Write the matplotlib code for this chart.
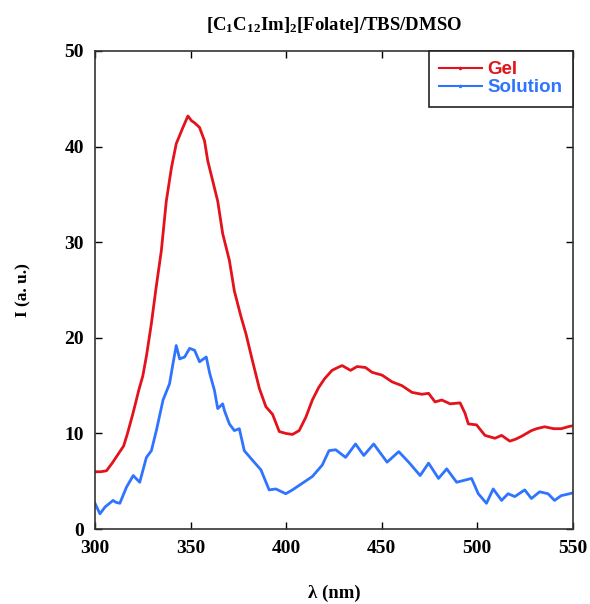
import matplotlib
matplotlib.use("Agg")
import matplotlib.pyplot as plt
from matplotlib.lines import Line2D

plt.rcParams["mathtext.fontset"] = "custom"
plt.rcParams["mathtext.rm"] = "Liberation Serif:bold"
plt.rcParams["mathtext.bf"] = "Liberation Serif:bold"
plt.rcParams["mathtext.it"] = "Liberation Serif:bold"

# ================== Data ==================

gel_wl = [300, 303, 306, 309, 312, 315, 317, 320, 323, 325, 327, 329.5, 332, 334.7,
          337.3, 340, 342.5, 346, 348.6, 350.5, 352, 354.7, 357.3, 359, 361.6, 364.2,
          366.8, 370.3, 372.9, 376.4, 379, 382.5, 386, 389.4, 392.9, 396.4, 400, 403.3,
          406.8, 410.3, 413.7, 417, 420, 424, 427, 429.3, 433.7, 437.1, 441.5, 444.9,
          450.2, 455.4, 460.6, 465.8, 471, 474.5, 477.9, 481.4, 485.8, 491, 493.6,
          495.3, 499.6, 504, 509.2, 512.7, 517, 520, 523.1, 528.3, 531, 535.2, 540,
          543.9, 548.3, 550]
gel_I = [6.0, 6.0, 6.1, 6.9, 7.8, 8.7, 10.0, 12.2, 14.6, 16.0, 18.2, 21.5, 25.3, 29.1,
         34.3, 37.8, 40.3, 42.0, 43.2, 42.7, 42.5, 42.0, 40.6, 38.5, 36.4, 34.3,
         30.9, 28.1, 24.9, 22.2, 20.4, 17.5, 14.7, 12.8, 12.0, 10.2, 10.0, 9.9,
         10.3, 11.7, 13.5, 14.8, 15.7, 16.6, 16.9, 17.1, 16.6, 17.0, 16.9, 16.4,
         16.1, 15.4, 15.0, 14.3, 14.1, 14.2, 13.3, 13.5, 13.1, 13.2, 12.1,
         11.0, 10.9, 9.8, 9.5, 9.8, 9.2, 9.4, 9.7, 10.3, 10.5, 10.7, 10.5,
         10.5, 10.75, 10.8]

sol_wl = [300, 302.6, 305.2, 307, 309.5, 311, 313, 316.5, 320, 323.4, 326.9, 329.5,
          332.1, 335.6, 339, 340.8, 342.5, 344.3, 346.9, 349.5, 352.1, 354.7, 358.2,
          360, 362.5, 364.2, 366.8, 367.7, 370.3, 372.9, 375.5, 378.1, 382.4, 386.8,
          391.1, 394.6, 399.8, 403.3, 408.5, 413.7, 418.9, 422.4, 425.9, 431.1, 436.3,
          440.6, 445.8, 452.8, 458.9, 464.1, 470.1, 474.5, 479.7, 484, 489.2, 497,
          500.5, 504.8, 508.3, 512.7, 516.1, 519.6, 524.8, 528.3, 532.6, 537, 540.4,
          543.9, 548.3, 550]
sol_I = [2.7, 1.6, 2.3, 2.6, 3.0, 2.8, 2.7, 4.4, 5.6, 4.9, 7.5, 8.2,
         10.3, 13.5, 15.2, 17.3, 19.2, 17.8, 18.0, 18.9, 18.7, 17.5, 18.0,
         16.3, 14.5, 12.6, 13.1, 12.4, 11.0, 10.3, 10.5, 8.2, 7.2, 6.2,
         4.1, 4.2, 3.7, 4.1, 4.8, 5.5, 6.7, 8.2, 8.3, 7.5, 8.9,
         7.7, 8.9, 7.0, 8.1, 7.0, 5.6, 6.9, 5.3, 6.3, 4.9, 5.3,
         3.7, 2.7, 4.2, 3.0, 3.7, 3.4, 4.1, 3.2, 3.9, 3.7, 3.0,
         3.5, 3.7, 3.8]

x_ticks = [300, 350, 400, 450, 500, 550]
y_ticks = [0, 10, 20, 30, 40, 50]

RED = "#e3121b"
BLUE = "#2f74ff"

# ================== Figure ==================

fig = plt.figure(figsize=(5.9, 6.04), dpi=100)
ax = fig.add_axes([0.161, 0.124, 0.81, 0.7916])

ax.plot(gel_wl, gel_I, color=RED, lw=2.0)
ax.plot(sol_wl, sol_I, color=BLUE, lw=2.0)

ax.set_xlim(300, 550)
ax.set_ylim(0, 50)
ax.set_xticks(x_ticks)
ax.set_yticks(y_ticks)
ax.tick_params(direction="in", top=True, right=True, length=5, width=1, pad=8)
for s in ax.spines.values():
    s.set_linewidth(1.2)
    s.set_color("#333333")

for lab in ax.get_xticklabels() + ax.get_yticklabels():
    lab.set_fontproperties("Liberation Serif")
    lab.set_fontweight("bold")
    lab.set_fontsize(14)

ax.set_xlabel("λ (nm)", family="Liberation Serif", weight="bold", fontsize=13.5, labelpad=20)
ax.set_ylabel("I (a. u.)", family="Liberation Serif", weight="bold", fontsize=12.5, labelpad=24)
ax.set_title(r"$\mathbf{[C_{1}C_{12}Im]_{2}[Folate]/TBS/DMSO}$", fontsize=13.5, pad=15)

handles = [Line2D([0], [0], color=RED, lw=1.5, marker=".", markersize=3),
           Line2D([0], [0], color=BLUE, lw=1.5, marker=".", markersize=3)]
leg = ax.legend(handles, ["Gel", "Solution"], loc="upper right", borderaxespad=0,
                frameon=True, fancybox=False, edgecolor="#222222", framealpha=1,
                prop={"family": "Liberation Sans", "weight": "bold", "size": 13.5},
                handlelength=2.3, handletextpad=0.3, labelspacing=0.05,
                borderpad=0.55)
leg.get_frame().set_linewidth(1.2)
for t, c in zip(leg.get_texts(), [RED, BLUE]):
    t.set_color(c)

fig.savefig("out.png", dpi=100)
